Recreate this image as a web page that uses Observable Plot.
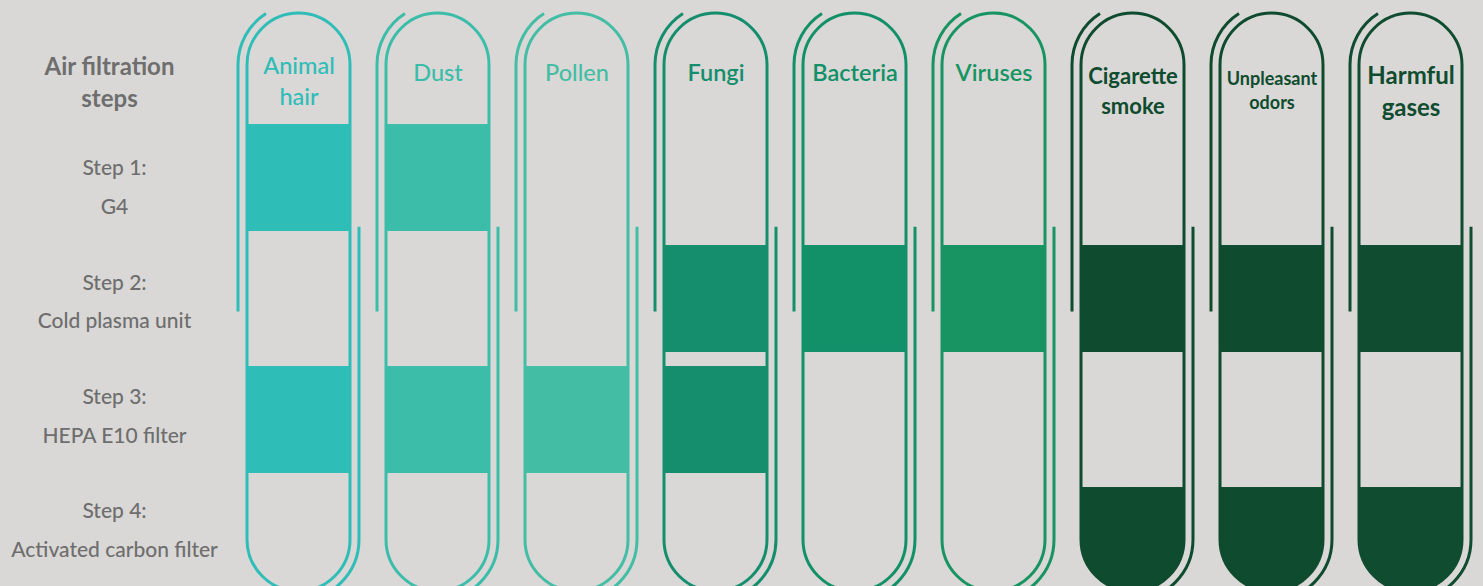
<!DOCTYPE html>
<html>
<head>
<meta charset="utf-8">
<script src="https://cdn.jsdelivr.net/npm/d3@7"></script>
<script src="https://cdn.jsdelivr.net/npm/@observablehq/plot@0.6"></script>
<style>
  html, body { margin: 0; padding: 0; background: #d9d8d6; }
  #chart { width: 1483px; height: 586px; overflow: hidden; }
</style>
</head>
<body>
<div id="chart"></div>
<script>
// ---- data ----
const pollutants = ["Animal hair", "Dust", "Pollen", "Fungi", "Bacteria", "Viruses", "Cigarette smoke", "Unpleasant odors", "Harmful gases"];
const pollutantLabels = ["Animal\nhair", "Dust", "Pollen", "Fungi", "Bacteria", "Viruses", "Cigarette\nsmoke", "Unpleasant\nodors", "Harmful\ngases"];
const stepLabels = ["Step 1:", "Step 2:", "Step 3:", "Step 4:"];
const stepNames = ["G4", "Cold plasma unit", "HEPA E10 filter", "Activated carbon filter"];
// steps (1-4) that remove each pollutant
const removedBy = [[1, 3], [1, 3], [3], [2, 3], [2], [2], [2, 4], [2, 4], [2, 4]];
const groups = ["light", "light", "light", "mid", "mid", "mid", "dark", "dark", "dark"];
const headerLabel = "Air filtration\nsteps";

// ---- styling / layout ----
const W = 1483, H = 586;
const palette = ["#2fbdb8", "#3bbdaa", "#43bea4", "#158e6d", "#129068", "#179462", "#0f4b2e", "#0f4b2e", "#104c2f"];
const padIn = 0.26;
const xRange = [244, 1465];
const yDomain = [-1.025, 3.818];                 // step units; step k occupies [k-1, k-1+stepH]
const pxPerUnit = H / (yDomain[1] - yDomain[0]);
const bw = (xRange[1] - xRange[0]) / (pollutants.length - padIn) * (1 - padIn);
const r = bw / 2;
const rU = r / pxPerUnit;
const stepH = 0.884;
const tubeTop = -0.917, tubeBottom = 3.86;
const leftDecorEnd = 1.55, rightDecorStart = 0.85;

const cells = [];
removedBy.forEach((s, i) => s.forEach(k => cells.push({pollutant: pollutants[i], step: k})));
const squareCells = cells.map(c => ({...c, y1: c.step - 1, y2: c.step === 4 ? tubeBottom - rU : c.step - 1 + stepH}));
const roundCells = cells.filter(c => c.step === 4).map(c => ({...c, y1: tubeBottom - 2 * rU, y2: tubeBottom}));

function decor(index, scales) {
  const {x, y, color} = scales;
  const b = x.bandwidth ? (typeof x.bandwidth === "function" ? x.bandwidth() : x.bandwidth) : bw;
  const g = d3.create("svg:g");
  for (const p of pollutants) {
    const rr = b / 2, R = rr + 9;
    const cx = x(p) + rr;
    const cyT = y(tubeTop) + rr, cyB = y(tubeBottom) - rr;
    const a0 = -122.5 * Math.PI / 180;
    const path = d3.path();
    path.moveTo(cx + R * Math.cos(a0), cyT + R * Math.sin(a0));
    path.arc(cx, cyT, R, a0, -Math.PI, true);
    path.lineTo(cx - R, y(leftDecorEnd));
    path.moveTo(cx + R, y(rightDecorStart));
    path.lineTo(cx + R, cyB);
    path.arc(cx, cyB, R, 0, Math.PI / 2, false);
    g.append("path").attr("d", path.toString()).attr("fill", "none")
      .attr("stroke", color ? color(p) : palette[pollutants.indexOf(p)]).attr("stroke-width", 3);
  }
  return g.node();
}

const labelOf = d => pollutantLabels[pollutants.indexOf(d)];
const labelText = (grp, opts) => Plot.text(pollutants.filter((p, i) => groups[i] === grp), {
  x: d => d,
  y: opts.y,
  text: labelOf,
  fill: d => d,
  fontSize: d => opts.size(d),
  fontWeight: opts.weight,
  lineHeight: opts.lineHeight,
  lineAnchor: "middle",
  textAnchor: "middle"
});

const chart = Plot.plot({
  width: W, height: H,
  marginTop: 0, marginRight: 0, marginBottom: 0, marginLeft: 0,
  style: {background: "#d9d8d6", fontFamily: "Lato, 'Open Sans', sans-serif", overflow: "hidden"},
  x: {domain: pollutants, range: xRange, paddingInner: padIn, paddingOuter: 0, axis: null},
  y: {domain: yDomain, range: [0, H], axis: null},
  color: {domain: pollutants, range: palette},
  marks: [
    Plot.barY(squareCells, {x: "pollutant", y1: "y1", y2: "y2", fill: "pollutant"}),
    Plot.barY(roundCells, {x: "pollutant", y1: "y1", y2: "y2", fill: "pollutant", rx: r, ry: r}),
    Plot.barY(pollutants, {x: d => d, y1: () => tubeTop, y2: () => tubeBottom, fill: "none", stroke: d => d, strokeWidth: 3, rx: r, ry: r}),
    decor,
    labelText("light", {y: d => labelOf(d).includes("\n") ? -0.375 : -0.44, size: () => 23.5, weight: 500, lineHeight: 1.33}),
    labelText("mid", {y: () => -0.44, size: () => 23.5, weight: 600, lineHeight: 1.33}),
    labelText("dark", {y: () => -0.29, size: d => d === "Unpleasant odors" ? 18 : (d === "Harmful gases" ? 24 : 22), weight: 700, lineHeight: 1.36}),
    Plot.text([headerLabel], {frameAnchor: "left", dx: 109, y: () => -0.36, text: d => d, textAnchor: "middle", lineAnchor: "middle", lineHeight: 1.33, fontSize: 24, fontWeight: 700, fill: "#6e6e6e"}),
    Plot.text(stepLabels, {frameAnchor: "left", dx: 114, y: (d, i) => i * 0.945 + 0.525 - 0.16, text: d => d, textAnchor: "middle", lineAnchor: "middle", fontSize: 21, fontWeight: 500, fill: "#6e6e6e"}),
    Plot.text(stepNames, {frameAnchor: "left", dx: 114, y: (d, i) => i * 0.945 + 0.525 + 0.16, text: d => d, textAnchor: "middle", lineAnchor: "middle", fontSize: 21, fontWeight: 500, fill: "#6e6e6e"})
  ]
});
document.getElementById("chart").append(chart);
</script>
</body>
</html>
